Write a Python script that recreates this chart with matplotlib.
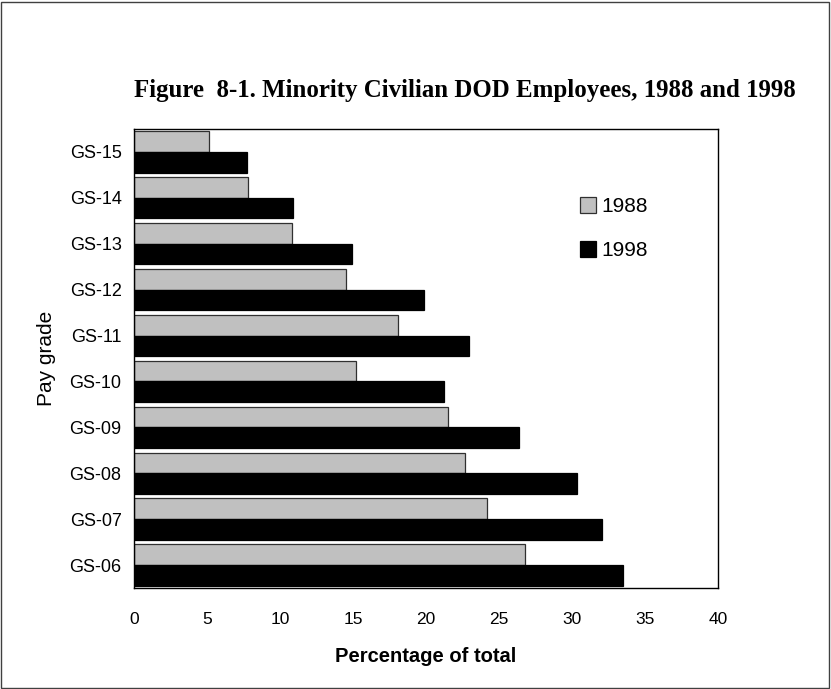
import matplotlib
matplotlib.use("Agg")
import matplotlib.pyplot as plt
import numpy as np
from matplotlib.patches import Rectangle

grades = ["GS-06", "GS-07", "GS-08", "GS-09", "GS-10",
          "GS-11", "GS-12", "GS-13", "GS-14", "GS-15"]
pct_1988 = [26.8, 24.2, 22.65, 21.5, 15.2, 18.1, 14.5, 10.8, 7.8, 5.15]
pct_1998 = [33.5, 32.05, 30.35, 26.35, 21.25, 22.95, 19.85, 14.95, 10.9, 7.75]
xticks = [0, 5, 10, 15, 20, 25, 30, 35, 40]

plt.rcParams["font.family"] = ["Liberation Sans", "DejaVu Sans"]

fig = plt.figure(figsize=(8.31, 6.89), dpi=100)
ax = fig.add_axes([0.1613, 0.1466, 0.7028, 0.6662])

y = np.arange(len(grades))
h = 0.45
ax.barh(y + h / 2, pct_1988, height=h, color="#c0c0c0", edgecolor="#303030",
        linewidth=0.9, label="1988")
ax.barh(y - h / 2, pct_1998, height=h, color="black", edgecolor="black",
        linewidth=0.9, label="1998")

ax.set_xlim(0, 40)
ax.set_ylim(-0.5, len(grades) - 0.5)
ax.set_xticks(xticks)
ax.set_yticks(y)
ax.set_yticklabels(grades)
ax.tick_params(axis="x", length=0, pad=17, labelsize=12.5)
ax.tick_params(axis="y", length=0, pad=9, labelsize=13)
for s in ax.spines.values():
    s.set_linewidth(1.0)
    s.set_color("black")

ax.set_xlabel("Percentage of total", fontsize=14.5, fontweight="bold", labelpad=15)
ax.set_ylabel("Pay grade", fontsize=15, labelpad=10)

leg = ax.legend(loc="upper left", bbox_to_anchor=(0.732, 0.892), frameon=False,
                fontsize=15, handlelength=0.75, handleheight=0.75,
                handletextpad=0.25, labelspacing=1.2)

fig.text(0.56, 0.868, "Figure  8-1. Minority Civilian DOD Employees, 1988 and 1998",
         ha="center", va="center", fontsize=17.9, fontweight="bold",
         family=["Liberation Serif", "DejaVu Serif"])

fig.patches.append(Rectangle((0.0015, 0.0015), 0.996, 0.996, transform=fig.transFigure,
                             fill=False, edgecolor="#404040", linewidth=1.0))

fig.savefig("out.png", dpi=100)
